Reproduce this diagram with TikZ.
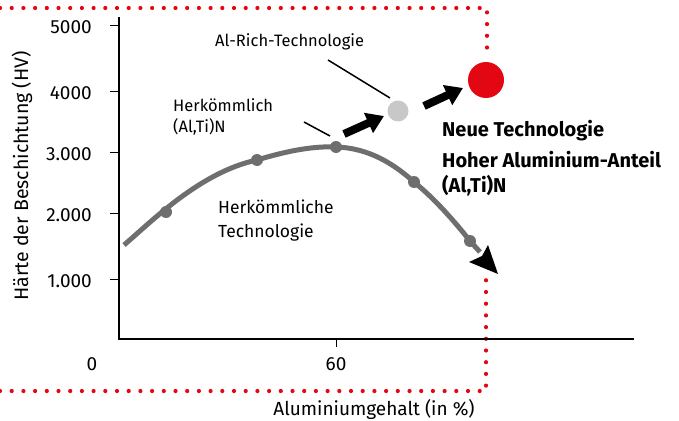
\documentclass[tikz,border=0pt]{standalone}
\usepackage{fontspec}
\setmainfont{Fira Sans}
\usetikzlibrary{arrows.meta}
\definecolor{dotred}{RGB}{227,6,19}
\definecolor{curvegray}{RGB}{110,110,110}
\definecolor{lightgray}{RGB}{200,200,200}
\tikzset{
  reddots/.style={dotred, line width=4.2pt, line cap=round, dash pattern=on 0pt off 11.7pt},
  axis/.style={black, line width=2pt},
  tick/.style={black, line width=0.9pt},
  ticklabel/.style={font=\fontsize{19}{22}\selectfont, inner sep=0pt},
  lbl/.style={font=\fontsize{16.5}{21}\selectfont, inner sep=0pt, align=left},
  biglbl/.style={font=\fontsize{17.5}{24}\selectfont, inner sep=0pt, align=left},
  boldlbl/.style={font=\fontsize{20}{25}\selectfont\bfseries, inner sep=0pt, align=left},
  curvept/.style={circle, fill=curvegray, minimum size=12pt, inner sep=0pt},
  fatarrow/.style={black, line width=8pt, -{Triangle[length=17pt, width=21pt]}},
  leader/.style={black, line width=1.5pt}
}
\begin{document}
\begin{tikzpicture}[x=1pt,y=-1pt]
\useasboundingbox (0,0) rectangle (679,420);
% red dotted frame
\coordinate (tl) at (0,8);
\coordinate (tr) at (487,8);
\coordinate (tb) at (487,58);
\coordinate (bl) at (0,391);
\coordinate (br) at (486,391);
\coordinate (bt) at (486,280);
\draw[reddots] (tl) -- (tr) -- (tb);
\draw[reddots] (bl) -- (br) -- (bt);
% axes
\coordinate (yt) at (119,17);
\coordinate (o) at (119,339);
\coordinate (xe) at (634,339);
\draw[axis] (yt) -- (o) -- (xe);
% y ticks
\foreach \yy/\lab in {25/5000, 91/4000, 152/3.000, 213/2.000, 279/1.000}{
  \draw[tick] (110,\yy) -- (119,\yy);
  \node[ticklabel, anchor=east] at (92,\yy+2) {\lab};
}
\draw[tick] (336,339) -- (336,347);
\node[ticklabel] (x0) at (92,364) {0};
\node[ticklabel] (x60) at (336,364) {60};
\node[ticklabel] (xlab) at (374,409) {Aluminiumgehalt (in \%)};
\node[ticklabel, font=\fontsize{19.5}{22}\selectfont, rotate=90] (ylab) at (22,176) {Härte der Beschichtung (HV)};
% red circle (new technology)
\node[circle, fill=dotred, minimum size=36pt, inner sep=0pt] (red) at (486,80) {};
% curve
\coordinate (c0) at (124,245);
\node[curvept] (p1) at (166,212) {};
\node[curvept] (p2) at (257,160) {};
\node[curvept] (p3) at (336,147) {};
\node[curvept] (p4) at (414,182) {};
\node[curvept] (p5) at (470,241) {};
\draw[curvegray, line width=5pt]
  (c0) .. controls (150,223) and (200,172) .. (p2.center)
  .. controls (290,150) and (315,146) .. (p3.center)
  .. controls (370,148) and (395,165) .. (p4.center)
  .. controls (435,199) and (455,222) .. (p5.center)
  -- (480,252);
\fill[black] (498,274) -- (469,262) -- (482,256) -- (488,245) -- cycle;
% gray circle
\node[circle, fill=lightgray, minimum size=21pt, inner sep=0pt] (gray) at (398,111) {};
% fat arrows
\coordinate (a1s) at (344,134);
\coordinate (a1e) at (384,116);
\coordinate (a2s) at (424,106);
\coordinate (a2e) at (463,88);
\draw[fatarrow] (a1s) -- (a1e);
\draw[fatarrow] (a2s) -- (a2e);
% leader lines
\coordinate (l1s) at (328,60);
\coordinate (l1e) at (390,98);
\coordinate (l2s) at (304,122);
\coordinate (l2e) at (330,136);
\draw[leader] (l1s) -- (l1e);
\draw[leader] (l2s) -- (l2e);
% labels
\node[lbl, anchor=base west] (alrich) at (215,47) {Al-Rich-Technologie};
\node[lbl, anchor=base west] (herk) at (173,111) {Herkömmlich};
\node[lbl, anchor=base west] (herk2) at (173,132) {(Al,Ti)N};
\node[biglbl, anchor=base west] (herktech) at (218,213) {Herkömmliche};
\node[biglbl, anchor=base west] (herktech2) at (218,237) {Technologie};
\node[boldlbl, anchor=base west] (neue) at (442,136) {Neue Technologie};
\node[boldlbl, anchor=base west] (hoher) at (442,167) {Hoher Aluminium-Anteil};
\node[boldlbl, anchor=base west] (hoher2) at (442,192) {(Al,Ti)N};
\end{tikzpicture}
\end{document}
